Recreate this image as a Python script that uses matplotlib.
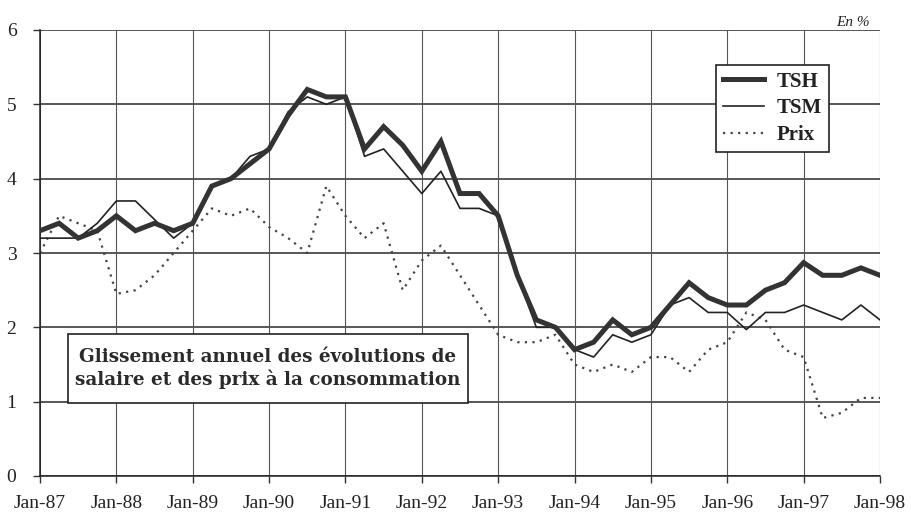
import matplotlib
matplotlib.use("Agg")
import matplotlib.pyplot as plt
import numpy as np
from matplotlib.lines import Line2D
from matplotlib.patches import Rectangle

# Quarterly observations, Jan-87 .. Jan-98
start_year = 1987
tsh = [3.3, 3.4, 3.2, 3.3, 3.5, 3.3, 3.4, 3.3, 3.4, 3.9, 4.0, 4.2,
       4.4, 4.85, 5.2, 5.1, 5.1, 4.4, 4.7, 4.45, 4.1, 4.5, 3.8, 3.8,
       3.5, 2.7, 2.1, 2.0, 1.7, 1.8, 2.1, 1.9, 2.0, 2.3, 2.6, 2.4,
       2.3, 2.3, 2.5, 2.6, 2.87, 2.7, 2.7, 2.8, 2.7]
tsm = [3.2, 3.2, 3.2, 3.4, 3.7, 3.7, 3.45, 3.2, 3.4, 3.9, 4.0, 4.3,
       4.4, 4.9, 5.1, 5.0, 5.1, 4.3, 4.4, 4.1, 3.8, 4.1, 3.6, 3.6,
       3.5, 2.7, 2.0, 2.0, 1.7, 1.6, 1.9, 1.8, 1.9, 2.3, 2.4, 2.2,
       2.2, 1.97, 2.2, 2.2, 2.3, 2.2, 2.1, 2.3, 2.1]
prix = [3.0, 3.5, 3.4, 3.3, 2.45, 2.5, 2.7, 3.0, 3.3, 3.6, 3.5, 3.6,
        3.35, 3.2, 3.0, 3.9, 3.5, 3.2, 3.4, 2.5, 2.9, 3.1, 2.7, 2.3,
        1.9, 1.8, 1.8, 1.9, 1.5, 1.4, 1.5, 1.4, 1.6, 1.6, 1.4, 1.7,
        1.8, 2.2, 2.1, 1.7, 1.6, 0.78, 0.85, 1.05, 1.05]
year_labels = ["Jan-87", "Jan-88", "Jan-89", "Jan-90", "Jan-91", "Jan-92",
               "Jan-93", "Jan-94", "Jan-95", "Jan-96", "Jan-97", "Jan-98"]
y_ticks = [0, 1, 2, 3, 4, 5, 6]

x = start_year + np.arange(len(tsh)) / 4.0
year_pos = start_year + np.arange(len(year_labels))

serif = ["Liberation Serif", "DejaVu Serif"]
plt.rcParams["font.family"] = serif

W, H = 912, 515
fig = plt.figure(figsize=(W/100, H/100), dpi=100)
ax = fig.add_axes([40/W, 1-476/H, (880-40)/W, (476-30)/H])

ax.set_xlim(year_pos[0], year_pos[-1])
ax.set_ylim(0, 6)

for yv in y_ticks:
    ax.axhline(yv, color="#2a2a2a", lw=1.1, zorder=1)
for xv in year_pos:
    ax.axvline(xv, color="#555555", lw=0.8, zorder=1)

ax.plot(x, prix, color="#444444", lw=1.6, linestyle=(0, (1, 2.4)), zorder=2)
ax.plot(x, tsm, color="#222222", lw=1.2, zorder=3)
ax.plot(x, tsh, color="#333333", lw=3.6, zorder=4, solid_joinstyle="miter")

ax.set_xticks(year_pos)
ax.set_xticklabels(year_labels, fontsize=14, color="#222222")
ax.set_yticks(y_ticks)
ax.set_yticklabels([str(v) for v in y_ticks], fontsize=14, color="#222222")
ax.tick_params(axis="both", direction="out", length=5, width=1, color="#333333")
ax.tick_params(axis="x", pad=9)
ax.tick_params(axis="y", pad=12)
for s in ["top", "right"]:
    ax.spines[s].set_visible(False)
for s in ["left", "bottom"]:
    ax.spines[s].set_color("#222222")
    ax.spines[s].set_linewidth(1.1)

# Legend
handles = [Line2D([], [], color="#333333", lw=3.6),
           Line2D([], [], color="#222222", lw=1.2),
           Line2D([], [], color="#444444", lw=1.6, linestyle=(0, (1, 2.4)))]
leg = ax.legend(handles, ["TSH", "TSM", "Prix"], loc="upper left",
                bbox_to_anchor=((716-40)/840, 1-(65-30)/446),
                prop={"family": serif, "weight": "bold", "size": 15},
                frameon=True, fancybox=False, handlelength=2.0,
                handletextpad=0.6, borderpad=0.32, labelspacing=0.32,
                borderaxespad=0)
leg.get_frame().set_edgecolor("#222222")
leg.get_frame().set_linewidth(1.2)
leg.get_frame().set_alpha(1)
for t in leg.get_texts():
    t.set_color("#222222")
    t.set_fontweight("bold")

# Title box
def px_to_ax(px, py):
    return (px-40)/840, 1-(py-30)/446

bx0, by0 = px_to_ax(68, 403)
bx1, by1 = px_to_ax(468, 334)
ax.add_patch(Rectangle((bx0, by0), bx1-bx0, by1-by0, transform=ax.transAxes,
                       facecolor="white", edgecolor="#222222", lw=1.2,
                       zorder=6))
ax.text((bx0+bx1)/2, (by0+by1)/2,
        "Glissement annuel des évolutions de\nsalaire et des prix à la consommation",
        transform=ax.transAxes, ha="center", va="center", fontsize=13.2,
        fontweight="bold", color="#2a2a2a", linespacing=1.25, zorder=7,
        family=["DejaVu Serif"])

fig.text(853/W, 1-22/H, "En %", fontsize=11, style="italic",
         ha="center", va="center", color="#222222")

fig.savefig("out.png", dpi=100)
